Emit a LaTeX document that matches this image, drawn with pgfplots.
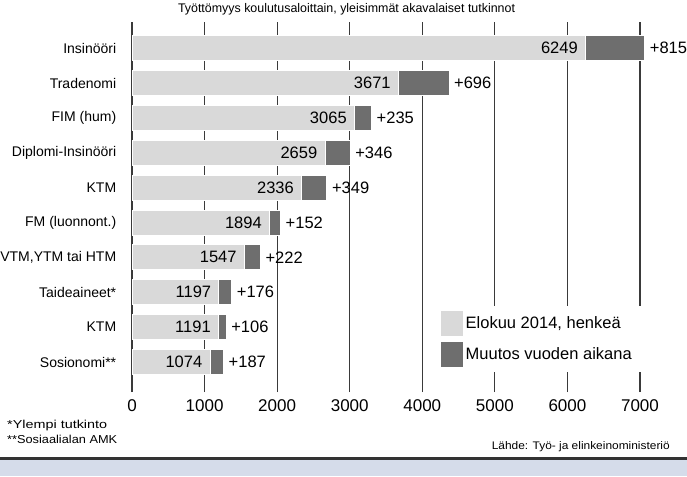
\documentclass[border=0pt]{standalone}
\usepackage{fontspec}
\setmainfont{Liberation Sans}
\usepackage{graphicx}
\usepackage{pgfplots}
\pgfplotsset{compat=1.18}
\definecolor{lightbar}{HTML}{D9D9D9}
\definecolor{darkbar}{HTML}{6E6E6E}
\definecolor{gridc}{HTML}{3A3A3A}
\definecolor{band}{HTML}{D5DCEA}
\begin{document}
\begin{tikzpicture}
\path[use as bounding box] (0,0) rectangle (687pt,-476pt);
\fill[white] (0,0) rectangle (687pt,-476pt);
\fill[band] (0,-460pt) rectangle (687pt,-476pt);
\draw[black!80, line width=2.5pt] (0,-458.5pt) -- (687pt,-458.5pt);
\node[inner sep=0pt] at (346.5pt,-9pt) {\resizebox{337pt}{\height}{\fontsize{12.5}{15}\selectfont Työttömyys koulutusaloittain, yleisimmät akavalaiset tutkinnot}};
\node[anchor=west, inner sep=0pt] at (7pt,-426pt) {\resizebox{100pt}{\height}{\fontsize{11.5}{13}\selectfont *Ylempi tutkinto}};
\node[anchor=west, inner sep=0pt] at (7pt,-439pt) {\resizebox{110pt}{\height}{\fontsize{11.5}{13}\selectfont **Sosiaalialan AMK}};
\node[anchor=east, inner sep=0pt] at (670pt,-447pt) {\resizebox{178pt}{\height}{\fontsize{11}{13}\selectfont Lähde: Työ- ja elinkeinoministeriö}};
\begin{axis}[
  at={(132pt,-392pt)}, anchor=south west,
  scale only axis, width=508pt, height=370pt,
  xbar, bar shift=0pt, bar width=25pt,
  xmin=0, xmax=7000, ymin=-0.86, ymax=9.75,
  clip=false,
  axis line style={draw=none},
  xtick={0,1000,...,7000},
  scaled x ticks=false,
  /pgf/number format/.cd, 1000 sep={}, assume math mode=true, /pgfplots/.cd,
  ytick={0,...,9},
  yticklabels={Sosionomi**, KTM, Taideaineet*, {VTM,YTM tai HTM}, FM (luonnont.), KTM, Diplomi-Insinööri, FIM (hum), Tradenomi, Insinööri},
  tick style={draw=none},
  xmajorgrids, major grid style={gridc, line width=1.1pt},
  yticklabel style={font=\fontsize{14}{16}\selectfont, xshift=-8pt},
  xticklabel style={font=\fontsize{17}{20}\selectfont, yshift=-4pt},
  legend style={at={(0.59,0.2324)}, anchor=north west, draw=none, fill=white,
    font=\fontsize{16.5}{19}\selectfont, row sep=4pt, inner xsep=8pt, inner ysep=4pt,
    /tikz/every even column/.append style={column sep=11pt}},
  legend cell align=left,
  reverse legend,
  legend image code/.code={\draw[#1] (0pt,-13pt) rectangle (23pt,13pt);},
]
% total = level in August 2014 + change during the year (dark segment)
\addplot[fill=darkbar, draw=white, line width=0.8pt, point meta=explicit symbolic,
  nodes near coords,
  every node near coord/.append style={anchor=west, xshift=1.5pt, font=\fontsize{16.5}{20}\selectfont, text=black}]
  coordinates {(1261,0)[+187] (1297,1)[+106] (1373,2)[+176] (1769,3)[+222] (2046,4)[+152]
               (2685,5)[+349] (3005,6)[+346] (3300,7)[+235] (4367,8)[+696] (7064,9)[+815]};
\addlegendentry{Muutos vuoden aikana}
% level in August 2014
\addplot[fill=lightbar, draw=white, line width=0.8pt, point meta=explicit symbolic,
  nodes near coords,
  every node near coord/.append style={anchor=east, xshift=-4pt, font=\fontsize{16.5}{20}\selectfont, text=black}]
  coordinates {(1074,0)[1074] (1191,1)[1191] (1197,2)[1197] (1547,3)[1547] (1894,4)[1894]
               (2336,5)[2336] (2659,6)[2659] (3065,7)[3065] (3671,8)[3671] (6249,9)[6249]};
\addlegendentry{Elokuu 2014, henkeä}
\end{axis}
\end{tikzpicture}
\end{document}
